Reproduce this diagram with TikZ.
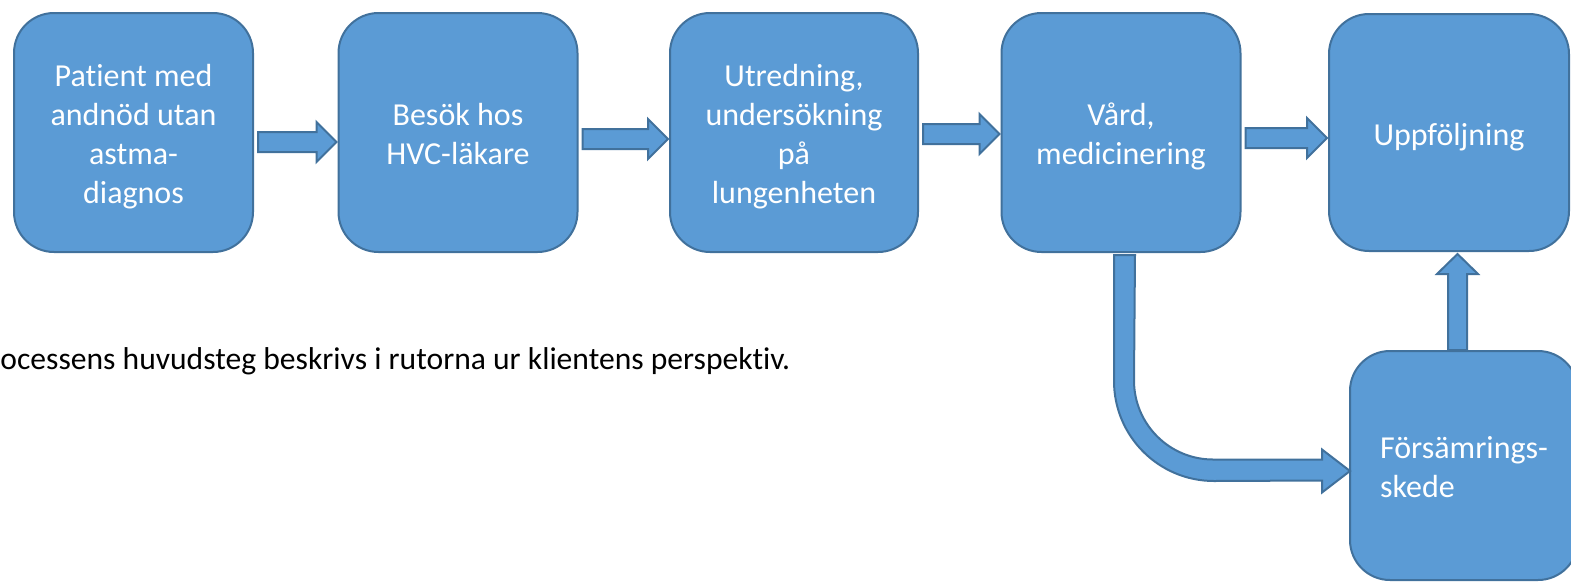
\documentclass[tikz,border=0pt]{standalone}
\usepackage{fontspec}
\setmainfont{Carlito}[Ligatures=NoCommon]
\usepackage{tikz}
\usetikzlibrary{calc}
\definecolor{boxblue}{RGB}{91,155,213}
\definecolor{edgeblue}{RGB}{65,113,156}
\newcommand{\boxlines}[2][c]{\raisebox{-2.5pt}[\height][\depth]{\begin{tabular}{@{}#1@{}}#2\end{tabular}}}

\begin{document}
\begin{tikzpicture}[x=0.5pt,y=-0.5pt,
  stepbox/.style={draw=edgeblue,fill=boxblue,line width=1pt,rounded corners=20pt,
    text=white,inner sep=0pt,minimum width=119.5pt,minimum height=119.5pt,
    font=\fontsize{16}{19.5}\selectfont},
  blockarrow/.style={draw=edgeblue,fill=boxblue,line width=1pt,line join=miter}]
\useasboundingbox (0,0) rectangle (1571,585);
%
\node[stepbox] (patient) at (133.5,132.5) {\boxlines{Patient med\\andnöd utan\\astma-\\diagnos}};
\node[stepbox] (besok) at (458,132.5) {\boxlines{Besök hos\\HVC-läkare}};
\node[stepbox,minimum width=124pt] (utredning) at (794,132.5) {\boxlines{Utredning,\\undersökning\\på\\lungenheten}};
\node[stepbox] (vard) at (1121,132.5) {\boxlines{Vård,\\medicinering}};
\node[stepbox,minimum width=120pt,minimum height=118.5pt] (uppfoljning) at (1449,132.5) {\boxlines{Uppföljning}};
\node[stepbox,minimum width=114pt,minimum height=114.5pt] (forsamring) at (1464,465.5) {\boxlines[l]{Försämrings-\\skede}};
%
\node[anchor=base west,inner sep=0pt,font=\fontsize{15.8}{19.5}\selectfont] (caption) at (0,369) {ocessens huvudsteg beskrivs i rutorna ur klientens perspektiv.};
%
\foreach \src/\dst/\dy in {patient/besok/9.5,besok/utredning/6.5,utredning/vard/1.5,vard/uppfoljning/5.5}
  \draw[blockarrow] ($(\src.east)+(4,\dy-10)$) -- ($(\dst.west)+(-21,\dy-10)$) -- ($(\dst.west)+(-21,\dy-20)$)
    -- ($(\dst.west)+(-1,\dy)$) -- ($(\dst.west)+(-21,\dy+20)$) -- ($(\dst.west)+(-21,\dy+10)$)
    -- ($(\src.east)+(4,\dy+10)$) -- cycle;
%
\draw[blockarrow] ($(forsamring.north)+(-16,0)$) -- ($(uppfoljning.south)+(-1,22)$) -- ($(uppfoljning.south)+(-12,22)$)
  -- ($(uppfoljning.south)+(8.5,2)$) -- ($(uppfoljning.south)+(29,22)$) -- ($(uppfoljning.south)+(18,22)$)
  -- ($(forsamring.north)+(3,0)$) -- cycle;
%
\draw[blockarrow] ($(vard.south)+(-7,2)$) -- ++(0,126) arc[start angle=180,end angle=90,radius=100]
  -- ($(forsamring.west)+(-27,15)$) -- ++(0,12) -- ($(forsamring.west)+(1,5.5)$) -- ($(forsamring.west)+(-27,-16)$)
  -- ++(0,10) -- ++(-109,0) arc[start angle=90,end angle=180,radius=79] -- ($(vard.south)+(14,2)$) -- cycle;
%
\end{tikzpicture}
\end{document}
